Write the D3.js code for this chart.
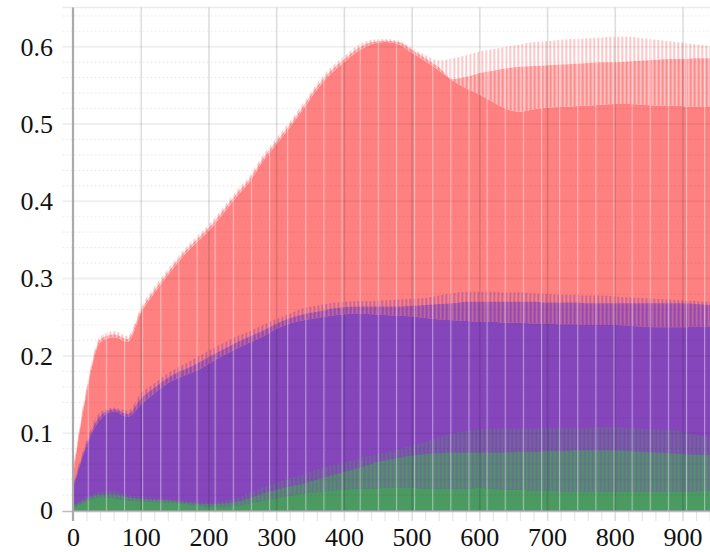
<!DOCTYPE html>
<html><head><meta charset="utf-8">
<script src="https://cdn.jsdelivr.net/npm/d3@7"></script>
<style>html,body{margin:0;padding:0;background:#fff;overflow:hidden}</style>
</head><body>
<svg id="chart" width="710" height="552"></svg>
<script>
// Sample positions along the horizontal axis
const positions = [0,20,40,60,80,100,120,140,160,180,200,220,240,260,280,300,320,340,360,380,
  400,420,440,460,480,500,520,540,560,580,600,620,640,660,680,700,720,740,760,780,
  800,820,840,860,880,900,920,940];

// Each series oscillates between a floor, a middle level and a peak level
const redLow = [0.05,0.155,0.218,0.224,0.218,0.256,0.282,0.305,0.327,0.345,0.362,0.383,0.405,0.425,0.452,0.474,0.496,0.52,0.545,0.565,
  0.58,0.594,0.603,0.606,0.603,0.592,0.581,0.569,0.556,0.546,0.538,0.528,0.519,0.516,0.519,0.521,0.522,0.523,0.524,0.525,
  0.526,0.526,0.525,0.524,0.524,0.523,0.522,0.522];
const redMid = [0.054,0.159,0.222,0.228,0.222,0.26,0.286,0.309,0.331,0.349,0.366,0.387,0.409,0.429,0.456,0.478,0.5,0.524,0.549,0.569,
  0.584,0.598,0.606,0.608,0.606,0.596,0.585,0.573,0.558,0.561,0.566,0.569,0.572,0.574,0.575,0.576,0.577,0.578,0.579,0.58,
  0.58,0.581,0.582,0.583,0.584,0.584,0.585,0.585];
const redHigh = [0.058,0.163,0.226,0.232,0.226,0.264,0.29,0.313,0.335,0.353,0.37,0.391,0.413,0.433,0.46,0.482,0.504,0.528,0.553,0.573,
  0.588,0.602,0.609,0.61,0.608,0.598,0.589,0.582,0.585,0.589,0.594,0.597,0.6,0.603,0.606,0.607,0.609,0.61,0.611,0.612,
  0.613,0.613,0.611,0.609,0.607,0.605,0.603,0.601];

const purpleLow = [0.03,0.085,0.118,0.128,0.121,0.137,0.152,0.165,0.173,0.18,0.19,0.2,0.209,0.217,0.225,0.235,0.242,0.246,0.249,0.252,
  0.254,0.255,0.254,0.253,0.252,0.251,0.249,0.247,0.246,0.245,0.244,0.244,0.243,0.243,0.242,0.242,0.241,0.241,0.24,0.24,
  0.24,0.239,0.238,0.237,0.237,0.237,0.238,0.238];
const purpleMid = [0.033,0.088,0.123,0.131,0.125,0.145,0.159,0.172,0.181,0.189,0.199,0.208,0.217,0.225,0.233,0.242,0.249,0.254,0.257,0.261,
  0.263,0.264,0.264,0.264,0.264,0.265,0.266,0.267,0.268,0.27,0.27,0.27,0.27,0.27,0.27,0.269,0.269,0.269,0.268,0.268,
  0.268,0.268,0.268,0.268,0.268,0.268,0.267,0.266];
const purpleHigh = [0.036,0.092,0.128,0.133,0.129,0.152,0.165,0.178,0.188,0.197,0.207,0.216,0.225,0.232,0.24,0.248,0.255,0.262,0.265,0.268,
  0.27,0.271,0.271,0.272,0.273,0.274,0.275,0.278,0.281,0.283,0.283,0.283,0.282,0.282,0.281,0.28,0.279,0.279,0.278,0.278,
  0.277,0.276,0.275,0.274,0.273,0.272,0.271,0.27];

const greenLow = [0.004,0.012,0.017,0.016,0.013,0.012,0.011,0.01,0.009,0.007,0.005,0.005,0.006,0.009,0.013,0.016,0.019,0.022,0.024,0.026,
  0.027,0.028,0.028,0.029,0.029,0.029,0.028,0.028,0.028,0.028,0.029,0.028,0.027,0.027,0.026,0.026,0.025,0.025,0.025,0.025,
  0.024,0.024,0.024,0.024,0.024,0.024,0.025,0.026];
const greenMid = [0.006,0.015,0.021,0.021,0.017,0.015,0.014,0.013,0.011,0.009,0.008,0.009,0.011,0.016,0.022,0.027,0.031,0.035,0.04,0.045,
  0.05,0.055,0.06,0.065,0.068,0.071,0.073,0.074,0.075,0.075,0.075,0.075,0.075,0.076,0.076,0.077,0.077,0.078,0.078,0.078,
  0.078,0.077,0.076,0.075,0.074,0.073,0.072,0.072];
const greenHigh = [0.008,0.018,0.024,0.025,0.02,0.018,0.016,0.015,0.013,0.011,0.01,0.012,0.016,0.022,0.03,0.036,0.042,0.047,0.053,0.058,
  0.062,0.067,0.071,0.075,0.079,0.084,0.089,0.095,0.1,0.103,0.105,0.106,0.106,0.106,0.106,0.107,0.107,0.107,0.107,0.108,
  0.108,0.107,0.106,0.105,0.104,0.102,0.098,0.094];

const yTicks = [0, 0.1, 0.2, 0.3, 0.4, 0.5, 0.6];
const yTickLabels = ["0", "0.1", "0.2", "0.3", "0.4", "0.5", "0.6"];
const xTicks = [0, 100, 200, 300, 400, 500, 600, 700, 800, 900];

const series = [
  {id: "red", color: "#ff8080", low: redLow, mid: redMid, high: redHigh},
  {id: "purple", color: "#8446ba", low: purpleLow, mid: purpleMid, high: purpleHigh},
  {id: "green", color: "#4b9a62", low: greenLow, mid: greenMid, high: greenHigh}
];

const svg = d3.select("#chart");
const x = d3.scaleLinear().domain([0, 940]).range([73.5, 710.1]);
const y = d3.scaleLinear().domain([0, 0.65]).range([510.5, 8.05]);
const plotTop = 7.5, plotBottom = 511.5, plotLeft = 73, plotRight = 710;
const serif = "'Liberation Serif', 'Times New Roman', Times, serif";

const defs = svg.append("defs");
// stripe fills for the oscillating bands
series.forEach(s => {
  const dense = defs.append("pattern").attr("id", "dense-" + s.id)
    .attr("patternUnits", "userSpaceOnUse").attr("width", 4).attr("height", 8)
    .attr("patternTransform", "translate(73.5,0)");
  dense.append("rect").attr("width", 4).attr("height", 8).attr("fill", s.color).attr("opacity", 0.4);
  dense.append("rect").attr("width", 2.4).attr("height", 8).attr("fill", s.color).attr("opacity", 0.85);
  const light = defs.append("pattern").attr("id", "light-" + s.id)
    .attr("patternUnits", "userSpaceOnUse").attr("width", 4).attr("height", 8)
    .attr("patternTransform", "translate(73.5,0)");
  light.append("rect").attr("width", 1.5).attr("height", 8).attr("fill", s.color).attr("opacity", 0.6);
});
const seams = defs.append("pattern").attr("id", "seams")
  .attr("patternUnits", "userSpaceOnUse").attr("width", 18.13).attr("height", 8)
  .attr("patternTransform", "translate(15.2,0)");
seams.append("rect").attr("width", 1.1).attr("height", 8).attr("fill", "#fff").attr("opacity", 0.45);

const band = (lo, hi) => d3.area()
  .x((d, i) => x(positions[i]))
  .y0((d, i) => y(lo[i]))
  .y1((d, i) => y(hi[i]))
  .curve(d3.curveMonotoneX);
const zeros = positions.map(() => 0);

defs.append("clipPath").attr("id", "fillClip")
  .append("path").attr("d", band(zeros, redHigh)(positions));
defs.append("clipPath").attr("id", "plotClip")
  .append("rect").attr("x", plotLeft).attr("y", plotTop).attr("width", plotRight - plotLeft).attr("height", plotBottom - plotTop);

const g = svg.append("g").attr("clip-path", "url(#plotClip)");
series.forEach(s => {
  g.append("path").attr("d", band(zeros, s.low)(positions)).attr("fill", s.color);
  g.append("path").attr("d", band(s.low, s.mid)(positions)).attr("fill", `url(#dense-${s.id})`);
  g.append("path").attr("d", band(s.mid, s.high)(positions)).attr("fill", `url(#light-${s.id})`);
});
g.append("rect").attr("x", plotLeft).attr("y", plotTop).attr("width", plotRight - plotLeft)
  .attr("height", plotBottom - plotTop).attr("fill", "url(#seams)").attr("clip-path", "url(#fillClip)");

// grid
const grid = svg.append("g");
const minorY = d3.range(0.02, 0.65, 0.02).filter(v => Math.abs(v * 10 - Math.round(v * 10)) > 1e-6);
grid.selectAll("line.minorY").data(minorY).join("line")
  .attr("x1", 62.5).attr("x2", plotRight).attr("y1", d => y(d)).attr("y2", d => y(d))
  .attr("stroke", "#000").attr("stroke-opacity", 0.07).attr("stroke-width", 1.2).attr("stroke-dasharray", "2,2");
grid.selectAll("line.majorY").data(yTicks.slice(1)).join("line")
  .attr("x1", 62.5).attr("x2", plotRight).attr("y1", d => y(d)).attr("y2", d => y(d))
  .attr("stroke", "#000").attr("stroke-opacity", 0.06).attr("stroke-width", 2);
grid.append("line").attr("x1", 62.5).attr("x2", plotRight).attr("y1", plotTop).attr("y2", plotTop)
  .attr("stroke", "#000").attr("stroke-opacity", 0.08).attr("stroke-width", 1.5);
grid.selectAll("line.majorX").data(xTicks.slice(1)).join("line")
  .attr("x1", d => x(d)).attr("x2", d => x(d)).attr("y1", plotTop).attr("y2", 521)
  .attr("stroke", "#000").attr("stroke-opacity", 0.13).attr("stroke-width", 1.6);
const minorX = d3.range(20, 941, 20).filter(v => v % 100 !== 0);
grid.selectAll("line.minorX").data(minorX).join("line")
  .attr("x1", d => x(d)).attr("x2", d => x(d)).attr("y1", plotBottom).attr("y2", 521)
  .attr("stroke", "#000").attr("stroke-opacity", 0.1).attr("stroke-width", 1.2);

// axes
svg.append("line").attr("x1", 62.5).attr("x2", plotRight).attr("y1", plotBottom).attr("y2", plotBottom)
  .attr("stroke", "#bbb").attr("stroke-width", 1.5);
svg.append("line").attr("x1", 73).attr("x2", 73).attr("y1", plotTop).attr("y2", 521)
  .attr("stroke", "#aaa").attr("stroke-width", 2.2);

svg.append("g").selectAll("text").data(yTicks).join("text")
  .attr("x", 53).attr("y", d => y(d)).attr("dy", "0.34em").attr("text-anchor", "end")
  .attr("font-family", serif).attr("font-size", 26).attr("fill", "#111")
  .text((d, i) => yTickLabels[i]);
svg.append("g").selectAll("text").data(xTicks).join("text")
  .attr("x", d => x(d)).attr("y", 545.5).attr("text-anchor", "middle")
  .attr("font-family", serif).attr("font-size", 26).attr("fill", "#111")
  .text(d => d);
</script>
</body></html>
